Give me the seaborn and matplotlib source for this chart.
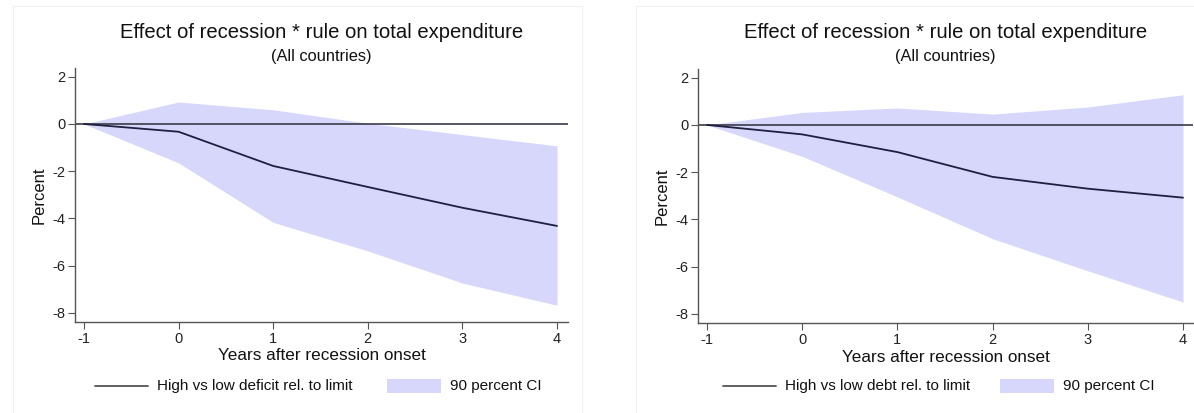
import matplotlib
matplotlib.use("Agg")
import matplotlib.pyplot as plt
import seaborn as sns
import pandas as pd
from matplotlib.patches import Rectangle
from matplotlib.lines import Line2D

sns.set_theme(style="white")
plt.rcParams['font.family'] = ['Liberation Sans', 'DejaVu Sans']

years = [-1, 0, 1, 2, 3, 4]
x_ticks = [-1, 0, 1, 2, 3, 4]
y_ticks = [2, 0, -2, -4, -6, -8]

deficit_est = [0, -0.33, -1.78, -2.67, -3.55, -4.32]
deficit_hi = [0, 0.93, 0.6, 0.03, -0.45, -0.93]
deficit_lo = [0, -1.65, -4.17, -5.38, -6.74, -7.68]

debt_est = [0, -0.4, -1.15, -2.2, -2.7, -3.08]
debt_hi = [0, 0.53, 0.72, 0.46, 0.76, 1.28]
debt_lo = [0, -1.33, -3.05, -4.82, -6.18, -7.5]

title = "Effect of recession * rule on total expenditure"
subtitle = "(All countries)"
xlabel = "Years after recession onset"
ylabel = "Percent"
labels = ["High vs low deficit rel. to limit", "High vs low debt rel. to limit"]
ci_label = "90 percent CI"

W, H = 1194, 413
fig = plt.figure(figsize=(W / 100, H / 100), dpi=100)

def fx(p):
    return p / W

def fy(p):
    return 1 - p / H

# faint panel borders
for (x0, x1) in [(13, 582), (636, 1200)]:
    fig.patches.append(Rectangle((fx(x0), fy(430)), fx(x1 - x0), (430 - 6) / H,
                                 transform=fig.transFigure, fill=False,
                                 edgecolor="#f0f0f0", lw=0.8, zorder=0))

fill_color = "#d7d7fb"
line_color = "#1f1f3f"

panels = [
    dict(est=deficit_est, hi=deficit_hi, lo=deficit_lo, lab=labels[0],
         box=(75, 568, 68, 322), xlim=(-1.095, 4.116), ylim=(-8.39, 2.37),
         leg=(95, 387)),
    dict(est=debt_est, hi=debt_hi, lo=debt_lo, lab=labels[1],
         box=(698, 1193, 69, 323), xlim=(-1.095, 4.105), ylim=(-8.39, 2.37),
         leg=(723, 1000)),
]

for p in panels:
    l, r, t, b = p["box"]
    ax = fig.add_axes([fx(l), fy(b), fx(r - l), (b - t) / H])
    df = pd.DataFrame({"year": years, "est": p["est"], "hi": p["hi"], "lo": p["lo"]})
    ax.fill_between(df["year"], df["lo"], df["hi"], color=fill_color, lw=0, zorder=1)
    ax.axhline(0, color="#3a3a4a", lw=1.2, zorder=2)
    sns.lineplot(data=df, x="year", y="est", ax=ax, color=line_color, lw=1.3, zorder=3)
    ax.set_xlim(*p["xlim"])
    ax.set_ylim(*p["ylim"])
    ax.set_xticks(x_ticks)
    ax.set_yticks(y_ticks)
    ax.set_xticklabels([str(v) for v in x_ticks], fontsize=10.5)
    ax.set_yticklabels([str(v) for v in y_ticks], fontsize=10.5)
    ax.tick_params(axis="both", direction="out", length=5, width=0.8, color="#555555",
                   left=True, bottom=True, pad=2, labelcolor="#222222")
    for s in ["top", "right"]:
        ax.spines[s].set_visible(False)
    for s in ["left", "bottom"]:
        ax.spines[s].set_color("#555555")
        ax.spines[s].set_linewidth(1.0)
    ax.set_xlabel(xlabel, fontsize=12.3, color="#111111", labelpad=2)
    ax.set_ylabel(ylabel, fontsize=12, color="#111111", labelpad=4)
    cx = (l + r) / 2
    fig.text(fx(cx), fy(33), title, ha="center", va="center", fontsize=14.6, color="#111111")
    fig.text(fx(cx), fy(57), subtitle, ha="center", va="center", fontsize=11.8, color="#111111")
    # legend
    lx, px = p["leg"]
    ly = 386
    fig.lines.append(Line2D([fx(lx), fx(lx + 53)], [fy(ly), fy(ly)], transform=fig.transFigure,
                            color="#555555", lw=1.3))
    fig.text(fx(lx + 62), fy(ly), p["lab"], ha="left", va="center", fontsize=11, color="#111111")
    fig.patches.append(Rectangle((fx(px), fy(ly + 7)), fx(54), 14 / H, transform=fig.transFigure,
                                 facecolor=fill_color, edgecolor="none"))
    fig.text(fx(px + 63), fy(ly), ci_label, ha="left", va="center", fontsize=11, color="#111111")

fig.savefig("out.png", dpi=100, facecolor="white")
